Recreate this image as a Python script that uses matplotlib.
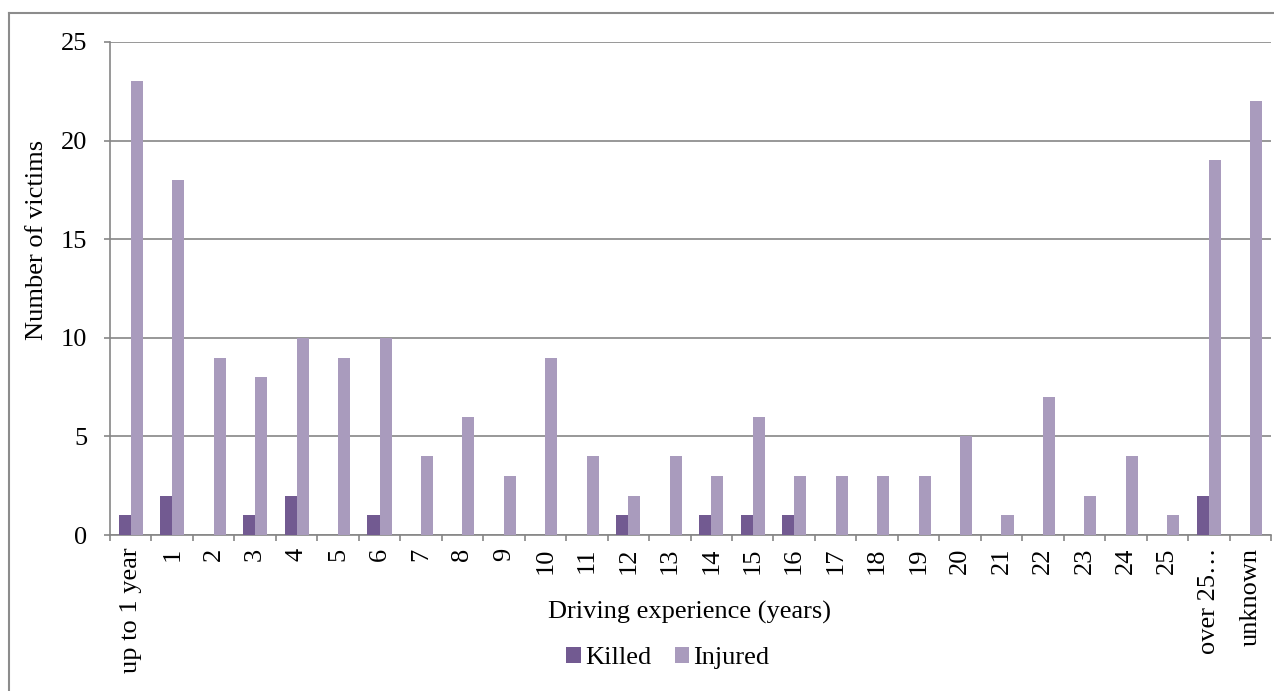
import matplotlib
matplotlib.use("Agg")
import matplotlib.pyplot as plt
from matplotlib.lines import Line2D
from matplotlib.patches import Patch
import numpy as np

categories = ["up to 1 year"] + [str(i) for i in range(1, 26)] + ["over 25…", "unknown"]
killed = [1, 2, 0, 1, 2, 0, 1, 0, 0, 0, 0, 0, 1, 0, 1, 1, 1, 0, 0, 0, 0, 0, 0, 0, 0, 0, 2, 0]
injured = [23, 18, 9, 8, 10, 9, 10, 4, 6, 3, 9, 4, 2, 4, 3, 6, 3, 3, 3, 3, 5, 1, 7, 2, 4, 1, 19, 22]
series_names = ["Killed", "Injured"]
colors = ["#725A91", "#A99BBD"]
yticks = [0, 5, 10, 15, 20, 25]

plt.rcParams['font.family'] = ['Liberation Serif', 'DejaVu Serif']
FS = 19
W, H = 1274, 691
fig = plt.figure(figsize=(W / 100, H / 100), dpi=100)
ax = fig.add_axes([110 / W, 1 - 535 / H, (1271 - 110) / W, (535 - 42) / H])

x = np.arange(len(categories))
bw = 0.29
ax.bar(x - bw / 2, killed, width=bw, color=colors[0], zorder=3)
ax.bar(x + bw / 2, injured, width=bw, color=colors[1], zorder=3)

grid_col = "#868686"
ax.set_xlim(-0.5, len(categories) - 0.5)
ax.set_ylim(0, 25)
ax.set_yticks(yticks)
ax.set_yticklabels([str(v) for v in yticks], fontsize=FS)
ax.yaxis.grid(True, color=grid_col, linewidth=1.2, zorder=0)
ax.set_axisbelow(True)

ax.set_xticks(np.arange(-0.5, len(categories), 1.0))
ax.set_xticklabels([])
ax.set_xticks(x, minor=True)
ax.set_xticklabels(categories, minor=True, rotation=90, fontsize=FS, va="top", ha="center")
ax.tick_params(axis="x", which="minor", length=0, pad=9)
ax.tick_params(axis="x", which="major", length=4.5, width=1.2, color=grid_col, direction="out")
ax.tick_params(axis="y", length=4.5, width=1.2, color=grid_col, direction="out", pad=12)

for s in ["top", "right"]:
    ax.spines[s].set_visible(False)
for s in ["left", "bottom"]:
    ax.spines[s].set_color(grid_col)
    ax.spines[s].set_linewidth(1.2)

fig.text(690 / W, 1 - 612 / H, "Driving experience (years)", fontsize=FS, ha="center", va="center")
fig.text(37 / W, 1 - 240 / H, "Number of victims", fontsize=FS, ha="center", va="center", rotation=90)

handles = [Patch(facecolor=c, edgecolor="none") for c in colors]
fig.legend(handles, series_names, loc="center", bbox_to_anchor=(668 / W, 1 - 658 / H),
           ncol=2, frameon=False, fontsize=FS, handlelength=0.55, handleheight=0.55,
           handletextpad=0.15, columnspacing=0.9)

# outer chart border (cropped at right and bottom)
fig.add_artist(Line2D([9 / W, 9 / W], [0, 1 - 13 / H], transform=fig.transFigure, color="#8C8C8C", linewidth=1.5))
fig.add_artist(Line2D([9 / W, 1], [1 - 13 / H, 1 - 13 / H], transform=fig.transFigure, color="#8C8C8C", linewidth=1.5))

fig.savefig("out.png", dpi=100)
